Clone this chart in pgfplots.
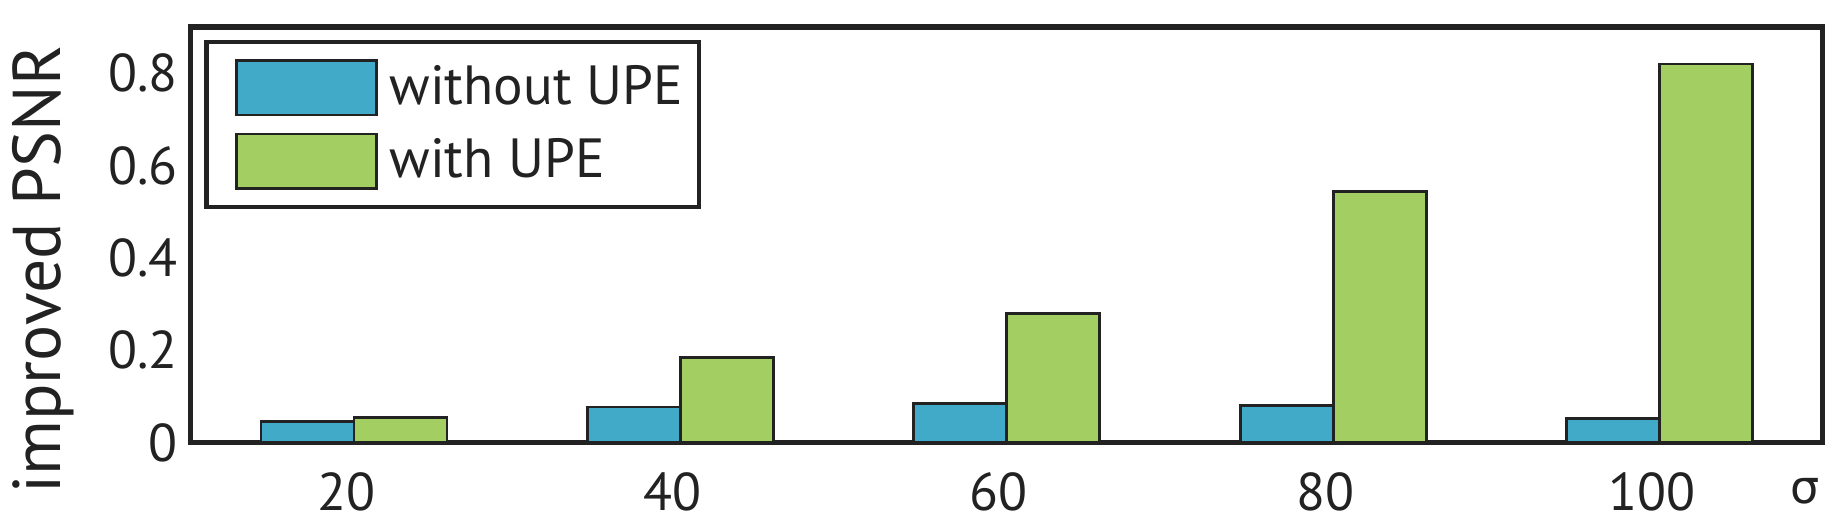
\documentclass[border=0pt]{standalone}
\usepackage{pgfplots}
\pgfplotsset{compat=1.18}
\usepackage{fontspec}
\setmainfont{PT Sans}
\newfontfamily\greekfont{DejaVu Sans}
\definecolor{cblue}{RGB}{64,170,200}
\definecolor{cgreen}{RGB}{163,207,98}
\definecolor{cline}{RGB}{34,34,34}
\begin{document}
\begin{tikzpicture}
\useasboundingbox (-47.7pt,-20.6pt) rectangle (409.3pt,110.65pt);
\begin{axis}[
  at={(0pt,0pt)}, anchor=south west,
  scale only axis, clip=false,
  width=408pt, height=103.9pt,
  xmin=0.5, xmax=5.5, ymin=0, ymax=0.9,
  xtick={1,2,3,4,5}, xticklabels={20,40,60,80,100},
  ytick={0,0.2,0.4,0.6,0.8}, yticklabels={0,0.2,0.4,0.6,0.8},
  major tick length=0pt,
  axis line style={cline, line width=1.3pt},
  tick label style={font=\fontsize{13.3}{13.3}\selectfont, text=cline},
  xticklabel style={anchor=base, yshift=-17pt, xshift=-2pt},
  yticklabel style={xshift=0.3pt},
  ylabel={improved PSNR},
  ylabel style={at={(axis description cs:-0.0801,0.416)}, anchor=base, font=\fontsize{16.9}{16.9}\selectfont, text=cline},
  ybar, bar width=0.285,
  legend style={at={(axis description cs:0.0082,0.970)}, anchor=north west,
    draw=cline, line width=1.2pt, inner xsep=4pt, inner ysep=4.3pt,
    font=\fontsize{13.8}{13.8}\selectfont, text=cline, row sep=4.25pt,
    nodes={inner sep=0pt},
    /tikz/every odd column/.append style={column sep=3pt}},
  legend cell align=left,
  legend image code/.code={\path (0pt,0pt); \draw[#1, line width=0.6pt] (3.1pt,-6.8pt) rectangle (38.1pt,6.8pt);},
]
\addplot[fill=cblue, draw=cline, line width=0.7pt, bar shift=-0.1425] coordinates {(1,0.045) (2,0.077) (3,0.084) (4,0.081) (5,0.052)};
\addplot[fill=cgreen, draw=cline, line width=0.7pt, bar shift=0.1425] coordinates {(1,0.054) (2,0.184) (3,0.280) (4,0.543) (5,0.820)};
\legend{without UPE, with UPE}
\node[anchor=base east, font=\fontsize{11.5}{11.5}\greekfont, text=cline, yshift=-15.25pt, xshift=-0.5pt, inner sep=0pt] at (rel axis cs:1,0) {σ};
\end{axis}
\end{tikzpicture}
\end{document}
